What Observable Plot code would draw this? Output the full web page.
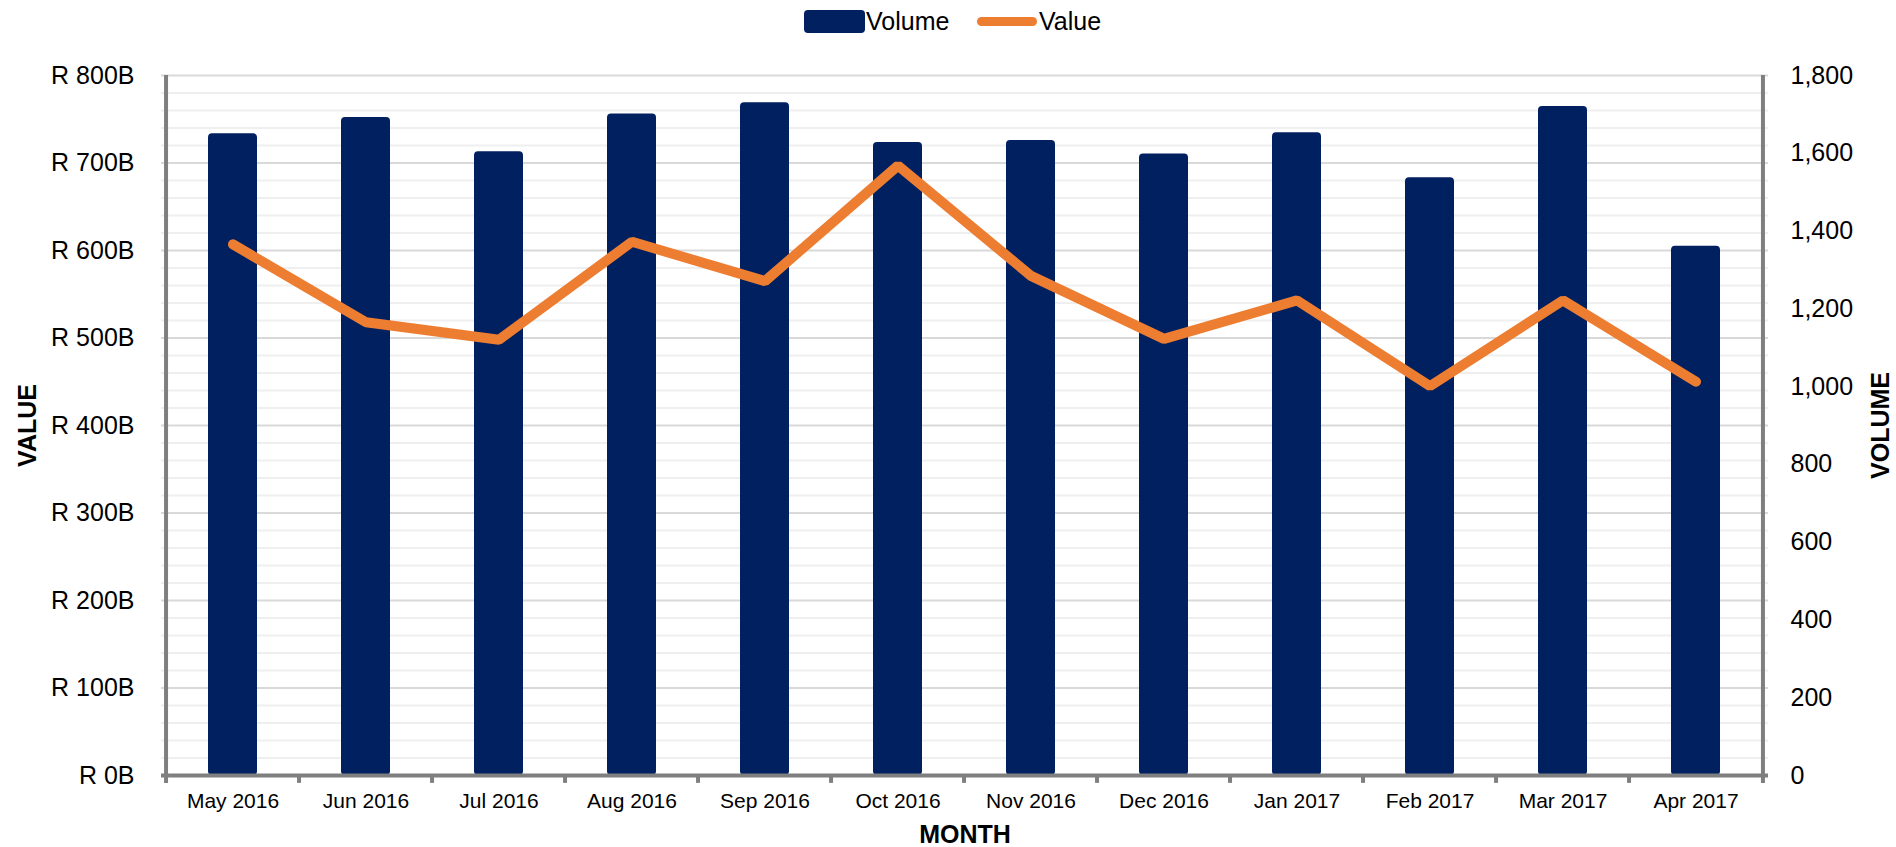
<!DOCTYPE html>
<html>
<head>
<meta charset="utf-8">
<script src="https://cdn.jsdelivr.net/npm/d3@7"></script>
<script src="https://cdn.jsdelivr.net/npm/@observablehq/plot@0.6"></script>
<style>
  html, body { margin: 0; background: #fff; font-family: "Liberation Sans", Arial, sans-serif; overflow: hidden; }
  #legend { position: relative; height: 40px; width: 1896px; }
  .sw { position: absolute; }
  .lt { position: absolute; font-size: 25px; line-height: 25px; color: #000; }
  #chart svg { display: block; }
</style>
</head>
<body>
<div id="legend">
  <div class="sw" style="left:804px; top:10px; width:61px; height:23px; background:#002060; border-radius:4px;"></div>
  <div class="lt" style="left:866px; top:9px;">Volume</div>
  <div class="sw" style="left:977px; top:17px; width:60px; height:9px; background:#ED7D31; border-radius:5px;"></div>
  <div class="lt" style="left:1039px; top:9px;">Value</div>
</div>
<div id="chart"></div>
<script>
const months = ["May 2016","Jun 2016","Jul 2016","Aug 2016","Sep 2016","Oct 2016","Nov 2016","Dec 2016","Jan 2017","Feb 2017","Mar 2017","Apr 2017"];
const volume = [1650,1692,1604,1701,1730,1628,1633,1598,1653,1537,1720,1361];
const value = [607,518,498,610,565,697,571,499,543,445,543,450];
const valueTicks = [0,100,200,300,400,500,600,700,800];
const volumeTicks = [0,200,400,600,800,1000,1200,1400,1600,1800];

const data = months.map((m, i) => ({month: m, volume: volume[i], value: value[i]}));
const VMAX = 800, QMAX = 1800;
const toValue = q => q * VMAX / QMAX;

const W = 1896, H = 807, ML = 161, MR = 128, MT = 35, MB = 72;
const step = (W - ML - MR) / months.length;
const minor = d3.range(20, 800, 20).filter(v => v % 100 !== 0);
const major = d3.range(100, 801, 100);

const plot = Plot.plot({
  width: W, height: H,
  marginLeft: ML, marginRight: MR, marginTop: MT, marginBottom: MB,
  style: {fontFamily: '"Liberation Sans", Arial, sans-serif', fontSize: "25px", color: "#000", background: "#fff"},
  x: {type: "band", domain: months, paddingInner: 0.63, paddingOuter: 0.315, axis: null},
  y: {domain: [0, VMAX], axis: null},
  marks: [
    Plot.ruleY(minor, {stroke: "#efefef", strokeWidth: 2}),
    Plot.ruleY(major, {stroke: "#d9d9d9", strokeWidth: 2}),
    Plot.barY(data, {x: "month", y: d => toValue(d.volume), fill: "#002060", rx: 4}),
    Plot.line(data, {x: "month", y: "value", stroke: "#ED7D31", strokeWidth: 10, strokeLinecap: "round", strokeLinejoin: "miter"}),
    // axis lines
    Plot.ruleY([0], {stroke: "#7f7f7f", strokeWidth: 4}),
    Plot.ruleX([months[0]], {x: d => d, y1: -9, y2: VMAX, dx: -step / 2, stroke: "#7f7f7f", strokeWidth: 4}),
    Plot.ruleX([months[months.length - 1]], {x: d => d, y1: -9, y2: VMAX, dx: step / 2, stroke: "#7f7f7f", strokeWidth: 4}),
    Plot.ruleX(months.slice(1), {x: d => d, y1: 0, y2: -9, dx: -step / 2, stroke: "#7f7f7f", strokeWidth: 4}),
    // axes
    Plot.axisY(valueTicks, {anchor: "left", tickSize: 0, tickPadding: 27, tickFormat: v => `R ${v}B`, fontSize: 25, label: null}),
    Plot.axisY(volumeTicks.map(toValue), {anchor: "right", tickSize: 0, tickPadding: 22, tickFormat: v => d3.format(",")(Math.round(v * QMAX / VMAX)), fontSize: 25, label: null}),
    Plot.axisX(months, {tickSize: 0, tickPadding: 18, fontSize: 21, label: null}),
    // titles
    Plot.text(["MONTH"], {frameAnchor: "bottom", dy: 59, text: d => d, fontSize: 25, fontWeight: "bold", textAnchor: "middle", lineAnchor: "middle"}),
    Plot.text(["VALUE"], {frameAnchor: "left", dx: -134, rotate: -90, text: d => d, fontSize: 25, fontWeight: "bold", textAnchor: "middle", lineAnchor: "middle"}),
    Plot.text(["VOLUME"], {frameAnchor: "right", dx: 112, rotate: -90, text: d => d, fontSize: 25, fontWeight: "bold", textAnchor: "middle", lineAnchor: "middle"})
  ]
});
document.getElementById("chart").appendChild(plot);
</script>
</body>
</html>
